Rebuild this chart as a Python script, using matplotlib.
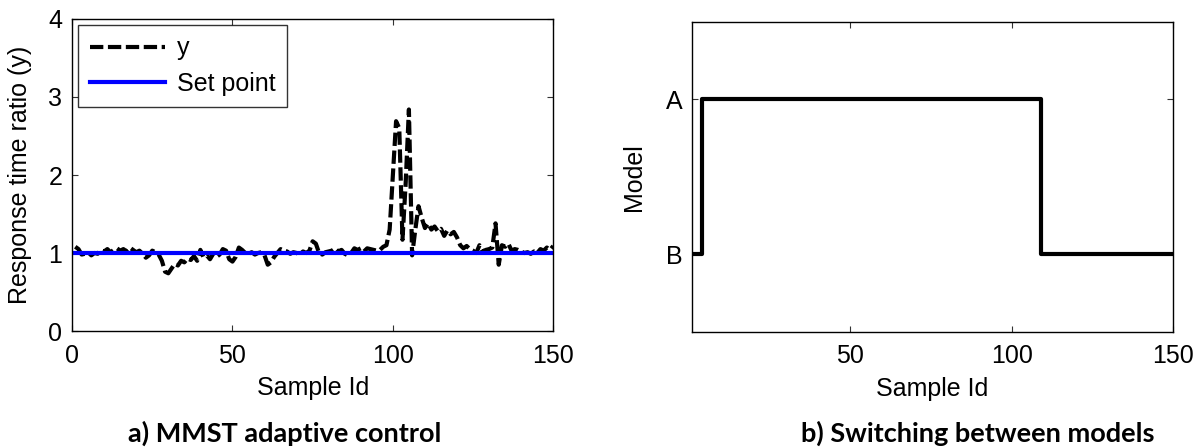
import numpy as np
import matplotlib
matplotlib.use("Agg")
import matplotlib.pyplot as plt

# =========================
# Data
# =========================
# measured response time ratio, one value per sample (1..150)
y_ratio = [
    1.08, 1.05, 0.98, 0.99, 1.01, 0.97, 1.00, 0.99, 1.04, 1.02,
    1.05, 1.01, 1.04, 1.06, 1.03, 1.05, 1.02, 1.07, 1.04, 1.01,
    1.03, 0.99, 0.94, 0.97, 1.03, 1.01, 0.98, 0.90, 0.76, 0.74,
    0.80, 0.86, 0.84, 0.90, 0.88, 0.93, 0.91, 0.96, 0.90, 1.04,
    0.94, 0.97, 0.92, 0.99, 0.95, 0.98, 1.05, 1.03, 0.92, 0.89,
    0.95, 1.07, 1.04, 1.00, 0.99, 1.01, 0.98, 1.00, 1.01, 0.97,
    0.85, 0.88, 0.95, 1.00, 1.05, 1.03, 1.02, 0.99, 1.01, 1.00,
    0.98, 1.02, 1.00, 1.03, 1.15, 1.12, 1.00, 0.98, 1.01, 1.02,
    1.03, 1.06, 1.02, 1.04, 0.99, 0.97, 1.00, 1.06, 1.04, 1.06,
    1.02, 1.06, 1.05, 1.04, 1.03, 1.04, 1.08, 1.10, 1.30, 2.00,
    2.69, 2.60, 1.17, 1.90, 2.84, 0.97, 1.30, 1.60, 1.45, 1.32,
    1.38, 1.30, 1.34, 1.28, 1.31, 1.22, 1.29, 1.24, 1.27, 1.20,
    1.10, 1.06, 1.09, 1.05, 1.03, 1.00, 1.10, 1.02, 1.04, 1.05,
    1.07, 1.38, 0.85, 1.10, 1.08, 1.12, 1.03, 1.05, 1.04, 1.02,
    1.00, 1.01, 0.99, 1.02, 1.00, 1.05, 1.03, 1.07, 1.04, 1.09,
]
set_point = 1.0

# active model as (label, number of samples) runs
model_runs = [("B", 3), ("A", 105), ("B", 42)]
model_labels = ["B", "A"]

x_ticks = [0, 50, 100, 150]
y_ticks = [0, 1, 2, 3, 4]

samples = np.arange(1, len(y_ratio) + 1)
model_seq = []
for label, n in model_runs:
    model_seq += [label] * n
model_level = np.array([model_labels.index(m) + 1 for m in model_seq])

# =========================
# Style
# =========================
FS = 18
plt.rcParams["font.family"] = ["Liberation Sans", "DejaVu Sans"]
plt.rcParams["font.size"] = FS


def box_axes(ax):
    """MATLAB-like box: ticks inside on all four sides."""
    ax.tick_params(direction="in", length=4, width=0.8, top=True, right=True,
                   labelsize=FS, colors="#333333", labelcolor="black")
    ax.tick_params(axis="x", pad=9)
    ax.tick_params(axis="y", pad=7)
    for side in ax.spines.values():
        side.set_linewidth(1.0)


fig = plt.figure(figsize=(12.03, 4.47), dpi=100)

# =========================
# a) response ratio vs set point
# =========================
ax1 = fig.add_axes([0.0599, 0.2595, 0.400, 0.698])
ax1.plot(samples, y_ratio, color="black", linestyle=(0, (3.2, 1.1)),
         linewidth=3, label="y")
ax1.plot(samples, np.full(len(samples), set_point), color="#0000ff",
         linewidth=3, label="Set point")
ax1.set_xlim(0, 150)
ax1.set_ylim(0, 4)
ax1.set_xticks(x_ticks)
ax1.set_yticks(y_ticks)
ax1.set_xlabel("Sample Id", fontsize=FS, labelpad=6)
ax1.set_ylabel("Response time ratio (y)", fontsize=FS, labelpad=12)
box_axes(ax1)
leg = ax1.legend(loc="upper left", fontsize=FS, frameon=True, fancybox=False,
                 edgecolor="black", handlelength=3.0, handletextpad=0.5,
                 borderaxespad=0.25, labelspacing=0.45, borderpad=0.45)
leg.get_frame().set_linewidth(1.0)

# =========================
# b) active model over time
# =========================
ax2 = fig.add_axes([0.5752, 0.2573, 0.400, 0.6935])
ax2.step(samples, model_level, where="post", color="black", linewidth=3)
ax2.set_xlim(1, 150)
ax2.set_ylim(0.5, 2.5)
ax2.set_xticks(x_ticks[1:])
ax2.set_yticks([1, 2])
ax2.set_yticklabels(model_labels)
ax2.set_xlabel("Sample Id", fontsize=FS, labelpad=6)
ax2.set_ylabel("Model", fontsize=FS, labelpad=14)
box_axes(ax2)

# panel captions
caption_font = dict(family=["Lato", "DejaVu Sans"], fontweight="bold",
                    fontsize=19.5, ha="center", va="center")
fig.text(0.237, 0.031, "a) MMST adaptive control", **caption_font)
fig.text(0.813, 0.031, "b) Switching between models", **caption_font)

fig.savefig("out.png", dpi=100)
